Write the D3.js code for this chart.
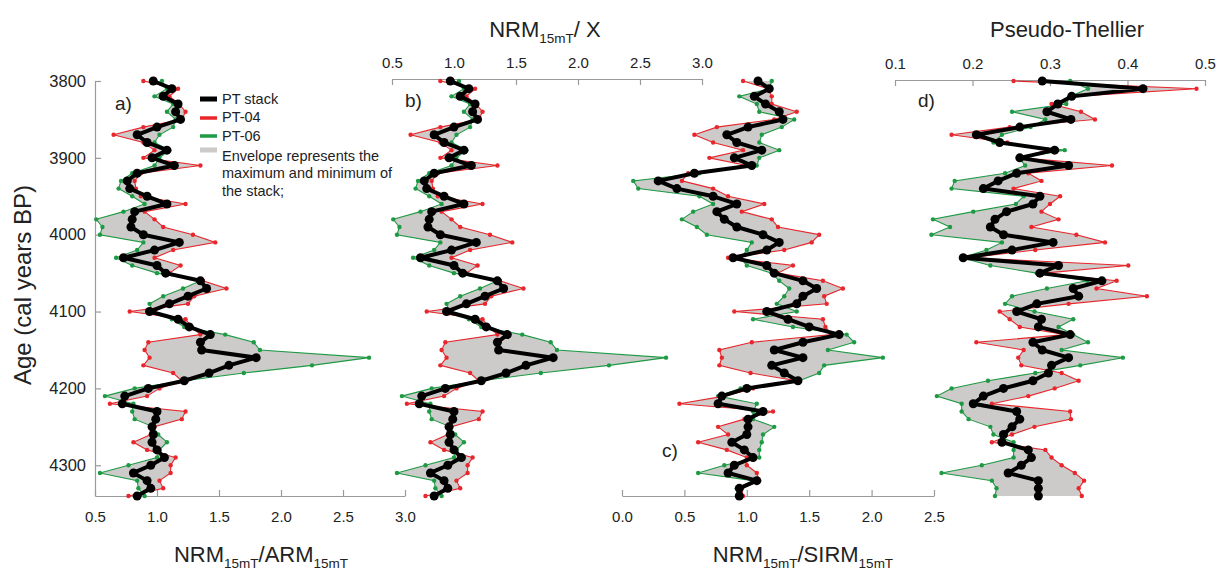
<!DOCTYPE html>
<html>
<head>
<meta charset="utf-8">
<script src="https://cdn.jsdelivr.net/npm/d3@7"></script>
<style>
    body { margin: 0; background: #ffffff; }
    svg { font-family: Arial, "Liberation Sans", sans-serif; }
</style>
</head>
<body>
<svg id="chart" width="1224" height="571"></svg>
<script>
// sample ages (cal years BP)
var ages = [3800, 3810, 3820, 3830, 3840, 3850, 3860, 3870, 3880, 3890,
    3900, 3910, 3920, 3930, 3940, 3950, 3960, 3970, 3980, 3990,
    4000, 4010, 4020, 4030, 4040, 4050, 4060, 4070, 4080, 4090,
    4100, 4110, 4120, 4130, 4140, 4150, 4160, 4170, 4180, 4190,
    4200, 4210, 4220, 4230, 4240, 4250, 4260, 4270, 4280, 4290,
    4300, 4310, 4320, 4330, 4340]

// a) NRM15mT/ARM15mT
var nrmArmStack = [0.97, 1.12, 1.05, 1.17, 1.15, 1.19, 1.00, 0.84, 0.92, 1.08,
    0.96, 1.14, 0.84, 0.76, 0.78, 0.92, 1.08, 0.82, 0.80, 0.79,
    0.89, 1.18, 0.98, 0.73, 1.00, 1.07, 1.35, 1.40, 1.25, 1.10,
    0.94, 1.17, 1.26, 1.43, 1.35, 1.36, 1.80, 1.58, 1.42, 1.22,
    0.93, 0.74, 0.72, 1.00, 0.99, 0.96, 0.97, 0.96, 1.00, 1.06,
    0.95, 0.81, 0.92, 0.95, 0.84]
var nrmArmPT04 = [0.89, 1.17, 1.10, 1.18, 1.23, 1.20, 0.89, 0.65, 0.89, 0.98,
    0.89, 1.35, 0.87, 0.82, 0.83, 0.87, 1.23, 0.90, 0.98, 1.05,
    1.29, 1.47, 1.13, 0.98, 1.19, 1.10, 1.37, 1.56, 1.30, 1.25,
    0.78, 1.23, 1.28, 1.35, 0.93, 0.90, 0.94, 0.89, 1.13, 1.20,
    1.02, 0.92, 0.62, 1.23, 1.20, 0.98, 0.95, 0.81, 0.92, 1.15,
    1.11, 1.11, 1.02, 1.05, 0.77]
var nrmArmPT06 = [1.04, 1.08, 0.98, 1.13, 1.08, 1.15, 1.13, 1.02, 0.98, 1.10,
    1.02, 0.98, 0.80, 0.71, 0.69, 0.80, 0.90, 0.73, 0.51, 0.56,
    0.54, 0.89, 0.84, 0.67, 0.80, 1.00, 1.35, 1.21, 1.05, 0.94,
    0.96, 1.12, 1.22, 1.55, 1.78, 1.83, 2.71, 2.25, 1.70, 1.22,
    0.82, 0.58, 0.81, 0.80, 0.82, 0.97, 1.01, 1.08, 1.02, 1.00,
    0.77, 0.54, 0.84, 0.85, 0.90]

// b) NRM15mT/X  (the figure shows the same curves as a)
var nrmChiStack = nrmArmStack.slice()
var nrmChiPT04 = nrmArmPT04.slice()
var nrmChiPT06 = nrmArmPT06.slice()

// c) NRM15mT/SIRM15mT
var nrmSirmStack = [1.09, 1.18, 1.06, 1.15, 1.26, 1.29, 1.01, 0.84, 0.92, 1.12,
    0.90, 1.04, 0.58, 0.29, 0.44, 0.73, 0.92, 0.76, 0.82, 0.92,
    1.13, 1.26, 1.16, 0.89, 1.16, 1.22, 1.45, 1.56, 1.45, 1.40,
    1.16, 1.33, 1.50, 1.74, 1.45, 1.22, 1.45, 1.20, 1.30, 1.41,
    1.00, 0.80, 0.77, 1.13, 1.01, 1.01, 1.00, 0.88, 0.98, 1.05,
    0.90, 0.85, 1.08, 0.94, 0.94]
var nrmSirmPT04 = [0.97, 1.17, 1.20, 1.20, 1.40, 1.22, 0.76, 0.58, 0.73, 0.97,
    0.70, 1.00, 0.53, 0.48, 0.73, 0.85, 1.14, 0.96, 1.20, 1.25,
    1.58, 1.52, 1.30, 0.85, 1.37, 1.25, 1.61, 1.77, 1.62, 1.64,
    0.90, 1.61, 1.63, 1.68, 1.04, 0.78, 0.80, 0.78, 1.03, 1.40,
    1.05, 0.82, 0.46, 1.21, 0.98, 0.77, 0.85, 0.61, 0.84, 1.00,
    1.00, 1.08, 1.10, 0.96, 0.97]
var nrmSirmPT06 = [1.20, 1.18, 0.94, 1.08, 1.10, 1.38, 1.28, 1.12, 1.10, 1.26,
    1.10, 1.08, 0.62, 0.09, 0.13, 0.62, 0.73, 0.57, 0.48, 0.60,
    0.68, 1.04, 1.00, 0.95, 1.00, 1.20, 1.26, 1.34, 1.30, 1.24,
    1.40, 1.05, 1.37, 1.80, 1.86, 1.65, 2.09, 1.62, 1.58, 1.42,
    0.95, 0.77, 1.08, 1.05, 1.05, 1.22, 1.13, 1.12, 1.10, 1.10,
    0.82, 0.61, 1.05, 0.92, 0.92]

// d) Pseudo-Thellier
var ptStack = [0.290, 0.420, 0.328, 0.310, 0.296, 0.327, 0.261, 0.205, 0.235, 0.306,
    0.261, 0.324, 0.257, 0.233, 0.214, 0.287, 0.278, 0.244, 0.229, 0.223,
    0.240, 0.304, 0.251, 0.188, 0.311, 0.287, 0.367, 0.330, 0.337, 0.283,
    0.257, 0.289, 0.285, 0.326, 0.278, 0.290, 0.324, 0.302, 0.298, 0.278,
    0.240, 0.214, 0.201, 0.257, 0.261, 0.251, 0.240, 0.238, 0.272, 0.276,
    0.263, 0.246, 0.285, 0.285, 0.285]
var ptPT04 = [0.253, 0.489, 0.330, 0.302, 0.340, 0.358, 0.248, 0.173, 0.245, 0.295,
    0.262, 0.380, 0.272, 0.289, 0.253, 0.313, 0.300, 0.289, 0.311, 0.276,
    0.334, 0.371, 0.281, 0.195, 0.401, 0.292, 0.386, 0.360, 0.425, 0.324,
    0.235, 0.248, 0.261, 0.320, 0.205, 0.266, 0.259, 0.263, 0.315, 0.337,
    0.306, 0.272, 0.225, 0.326, 0.327, 0.280, 0.251, 0.225, 0.294, 0.302,
    0.315, 0.332, 0.344, 0.337, 0.341]
var ptPT06 = [0.326, 0.349, 0.326, 0.321, 0.251, 0.294, 0.275, 0.238, 0.227, 0.319,
    0.260, 0.268, 0.242, 0.177, 0.173, 0.266, 0.256, 0.201, 0.149, 0.171,
    0.147, 0.238, 0.218, 0.186, 0.223, 0.283, 0.348, 0.296, 0.251, 0.242,
    0.280, 0.330, 0.311, 0.330, 0.349, 0.315, 0.394, 0.339, 0.281, 0.220,
    0.173, 0.154, 0.186, 0.186, 0.195, 0.223, 0.227, 0.253, 0.253, 0.253,
    0.212, 0.160, 0.225, 0.231, 0.229]

var ageTicks = [3800, 3900, 4000, 4100, 4200, 4300]
var ratioTicks = [0.5, 1.0, 1.5, 2.0, 2.5, 3.0]
var sirmTicks = [0.0, 0.5, 1.0, 1.5, 2.0, 2.5]
var thellierTicks = [0.1, 0.2, 0.3, 0.4, 0.5]

var RED = '#e8262b'
var GREEN = '#1d9a43'
var ENVELOPE = '#cdcaca'
var AXIS = '#9a9a9a'
var TEXT = '#222222'

var svg = d3.select('#chart')

var y = d3.scaleLinear().domain([3800, 4340]).range([81, 496])

var panels = [
    {
        stack: nrmArmStack, pt04: nrmArmPT04, pt06: nrmArmPT06,
        x: d3.scaleLinear().domain([0.5, 3.0]).range([95, 405]),
        orient: 'bottom', axisY: 496, ticks: ratioTicks,
        label: 'a)', labelPos: [115, 103]
    },
    {
        stack: nrmChiStack, pt04: nrmChiPT04, pt06: nrmChiPT06,
        x: d3.scaleLinear().domain([0.5, 3.0]).range([392, 702]),
        orient: 'top', axisY: 79, ticks: ratioTicks,
        label: 'b)', labelPos: [405, 100]
    },
    {
        stack: nrmSirmStack, pt04: nrmSirmPT04, pt06: nrmSirmPT06,
        x: d3.scaleLinear().domain([0.0, 2.5]).range([622, 934]),
        orient: 'bottom', axisY: 496, ticks: sirmTicks,
        label: 'c)', labelPos: [662, 450]
    },
    {
        stack: ptStack, pt04: ptPT04, pt06: ptPT06,
        x: d3.scaleLinear().domain([0.1, 0.5]).range([895, 1205]),
        orient: 'top', axisY: 80, ticks: thellierTicks,
        label: 'd)', labelPos: [918, 100]
    }
]

drawAgeAxis()
panels.forEach(p => drawValueAxis(p))
panels.forEach(p => drawPanel(p))
drawTitles()
drawLegend()

function thirds(ticks) {
    // two minor ticks between every pair of labelled ticks
    let out = []
    for (let i = 0; i < ticks.length - 1; i++) {
        let step = (ticks[i + 1] - ticks[i]) / 3
        out.push(ticks[i] + step, ticks[i] + 2 * step)
    }
    return out
}

function styleAxis(g) {
    g.select('.domain').style('stroke', AXIS).style('stroke-width', 1.2)
    g.selectAll('.tick line').style('stroke', AXIS).style('stroke-width', 1.2)
    g.selectAll('.tick text').style('fill', TEXT).style('font-size', '15px')
}

function drawAgeAxis() {
    let minor = thirds(ageTicks.concat([4400])).filter(d => d <= 4340)
    let g = svg.append('g').attr('transform', 'translate(95,0)')
    g.call(d3.axisLeft(y).tickValues(minor).tickSize(-4).tickSizeOuter(0).tickFormat(''))
    g.call(d3.axisLeft(y).tickValues(ageTicks).tickSize(-6).tickSizeOuter(0).tickPadding(9)
        .tickFormat(d3.format('d')))
    styleAxis(g)
    g.selectAll('.tick text').style('font-size', '16.5px')

    svg.append('text')
        .attr('transform', 'translate(31,285) rotate(-90)')
        .attr('text-anchor', 'middle')
        .style('font-size', '24px')
        .style('fill', TEXT)
        .text('Age (cal years BP)')
}

function drawValueAxis(p) {
    let gen = p.orient === 'bottom' ? d3.axisBottom : d3.axisTop
    let g = svg.append('g').attr('transform', `translate(0,${p.axisY})`)
    g.call(gen(p.x).tickValues(thirds(p.ticks)).tickSize(-4).tickSizeOuter(0).tickFormat(''))
    g.call(gen(p.x).tickValues(p.ticks).tickSize(-6).tickSizeOuter(0)
        .tickPadding(p.orient === 'bottom' ? 15 : 11)
        .tickFormat(d3.format('.1f')))
    styleAxis(g)
}

function drawPanel(p) {
    let rows = ages.map((a, i) => ({ age: a, stack: p.stack[i], pt04: p.pt04[i], pt06: p.pt06[i] }))
    let g = svg.append('g')

    // grey envelope between the two cores
    g.append('path')
        .datum(rows)
        .attr('d', d3.area()
            .x0(d => p.x(d.pt04))
            .x1(d => p.x(d.pt06))
            .y(d => y(d.age)))
        .style('fill', ENVELOPE)
        .style('stroke', 'none')

    let series = [['pt06', GREEN], ['pt04', RED]]
    for (let [key, color] of series) {
        g.append('path')
            .datum(rows)
            .attr('d', d3.line().x(d => p.x(d[key])).y(d => y(d.age)))
            .style('fill', 'none')
            .style('stroke', color)
            .style('stroke-width', 1.1)
        g.append('g')
            .selectAll('circle')
            .data(rows)
            .join('circle')
            .attr('cx', d => p.x(d[key]))
            .attr('cy', d => y(d.age))
            .attr('r', 2.2)
            .style('fill', color)
    }

    g.append('path')
        .datum(rows)
        .attr('d', d3.line().x(d => p.x(d.stack)).y(d => y(d.age)))
        .style('fill', 'none')
        .style('stroke', '#000')
        .style('stroke-width', 4)
        .style('stroke-linejoin', 'round')
    g.append('g')
        .selectAll('circle')
        .data(rows)
        .join('circle')
        .attr('cx', d => p.x(d.stack))
        .attr('cy', d => y(d.age))
        .attr('r', 4.5)
        .style('fill', '#000')

    svg.append('text')
        .attr('x', p.labelPos[0])
        .attr('y', p.labelPos[1])
        .attr('dy', '0.35em')
        .style('font-size', '19px')
        .style('fill', TEXT)
        .text(p.label)
}

function subTitle(x, yPos, parts) {
    // parts: [text, isSubscript]
    let t = svg.append('text')
        .attr('x', x)
        .attr('y', yPos)
        .attr('text-anchor', 'middle')
        .style('font-size', '22px')
        .style('fill', TEXT)
    let low = false
    for (let [s, sub] of parts) {
        let dy = 0
        if (sub && !low) dy = 6
        if (!sub && low) dy = -6
        low = sub
        t.append('tspan')
            .attr('dy', dy)
            .style('font-size', sub ? '13.5px' : '22px')
            .text(s)
    }
}

function drawTitles() {
    subTitle(261, 562, [['NRM', false], ['15mT', true], ['/ARM', false], ['15mT', true]])
    subTitle(545, 37, [['NRM', false], ['15mT', true], ['/ X', false]])
    subTitle(803, 562, [['NRM', false], ['15mT', true], ['/SIRM', false], ['15mT', true]])

    svg.append('text')
        .attr('x', 1067)
        .attr('y', 37)
        .attr('text-anchor', 'middle')
        .style('font-size', '22px')
        .style('fill', TEXT)
        .text('Pseudo-Thellier')
}

function drawLegend() {
    let items = [
        { y: 99, color: '#000', width: 5, text: 'PT stack' },
        { y: 118, color: RED, width: 3.5, text: 'PT-04' },
        { y: 136, color: GREEN, width: 3.5, text: 'PT-06' },
        { y: 150, color: ENVELOPE, width: 5, text: null }
    ]
    let g = svg.append('g')
    g.selectAll('line')
        .data(items)
        .join('line')
        .attr('x1', 200)
        .attr('x2', 217)
        .attr('y1', d => d.y)
        .attr('y2', d => d.y)
        .style('stroke', d => d.color)
        .style('stroke-width', d => d.width)

    let lines = [[99, 'PT stack'], [117, 'PT-04'], [136, 'PT-06'],
        [156, 'Envelope represents the'], [173, 'maximum and minimum of'], [191, 'the stack;']]
    g.selectAll('text')
        .data(lines)
        .join('text')
        .attr('x', 222)
        .attr('y', d => d[0])
        .attr('dy', '0.35em')
        .style('font-size', '14.5px')
        .style('fill', TEXT)
        .text(d => d[1])
}
</script>
</body>
</html>
